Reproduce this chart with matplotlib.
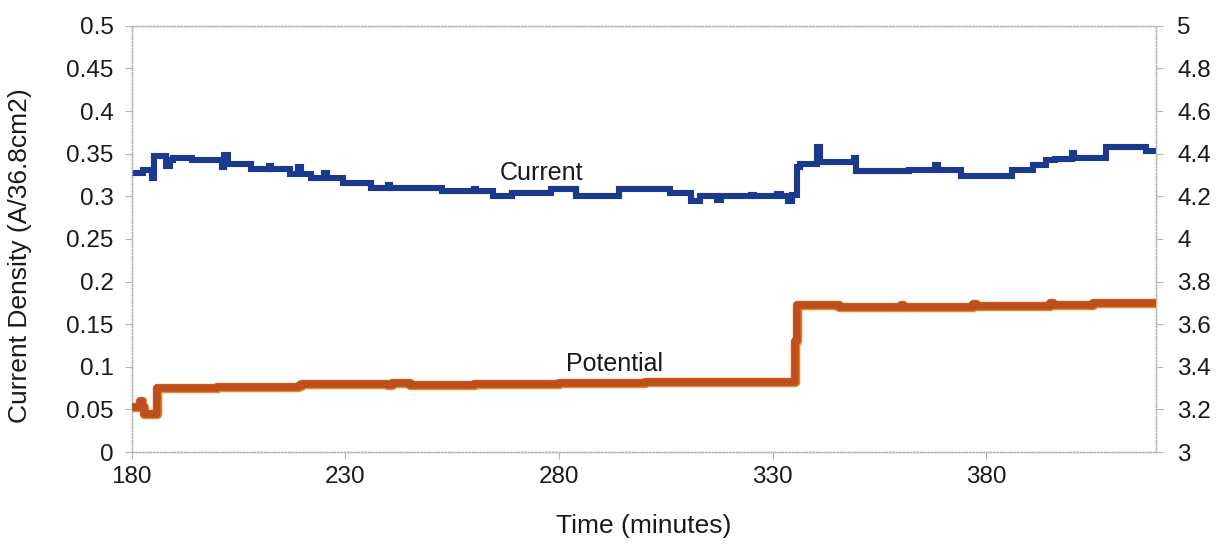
import numpy as np
import matplotlib
matplotlib.use("Agg")
import matplotlib.pyplot as plt
from matplotlib.ticker import FuncFormatter

plt.rcParams['font.family'] = ['Liberation Sans', 'DejaVu Sans']

# current density (A/36.8cm2), step data
cur_t = [180, 182.6, 184.8, 185.2, 188, 189, 189.6, 194, 201, 201.6, 202.4,
         208, 212, 212.5, 217, 219, 219.6, 222, 225, 225.6, 229.5, 236,
         240, 240.5, 252.6, 260, 260.6, 264.5, 269, 278, 284, 294, 306,
         311, 313, 317, 318, 325, 325.7, 331, 332, 333.5, 334.5, 335.8,
         336.5, 340.3, 341, 349, 349.6, 362, 368, 368.6, 374, 386, 391,
         394, 396, 400, 400.6, 401, 408, 417.5, 419.6]
cur_v = [0.327, 0.331, 0.322, 0.347, 0.336, 0.343, 0.345, 0.343, 0.334, 0.349,
         0.338, 0.332, 0.336, 0.332, 0.326, 0.334, 0.326, 0.322, 0.327, 0.322,
         0.316, 0.310, 0.313, 0.310, 0.306, 0.309, 0.306, 0.300, 0.304, 0.308,
         0.300, 0.308, 0.304, 0.294, 0.300, 0.296, 0.300, 0.302, 0.300, 0.303,
         0.300, 0.295, 0.302, 0.334, 0.338, 0.358, 0.340, 0.345, 0.330, 0.331,
         0.337, 0.331, 0.324, 0.331, 0.337, 0.342, 0.344, 0.351, 0.345, 0.345,
         0.358, 0.353, 0.353]

# cell potential (V), right axis
pot_t = [180, 181.8, 182.4, 182.8, 186, 200, 219, 219.5, 240, 241, 245,
         260, 280, 300, 320, 335.3, 335.8, 336.3, 345, 345.6, 360, 360.6,
         377, 377.6, 395, 395.6, 405, 419.6]
pot_v = [3.21, 3.24, 3.21, 3.18, 3.30, 3.305, 3.31, 3.32, 3.315, 3.325, 3.315,
         3.32, 3.325, 3.328, 3.33, 3.52, 3.69, 3.69, 3.69, 3.68, 3.69, 3.68,
         3.695, 3.685, 3.70, 3.69, 3.70, 3.70]

x_ticks = [180, 230, 280, 330, 380]
left_ticks = np.arange(0, 0.501, 0.05)
right_ticks = np.arange(3, 5.001, 0.2)

fig = plt.figure(figsize=(12.21, 5.48), dpi=100)
ax = fig.add_axes([0.108, 0.175, 0.839, 0.778])
ax2 = ax.twinx()

ax.plot(cur_t, cur_v, drawstyle='steps-post', color='#1b3a8e', lw=4.4,
        solid_joinstyle='miter', zorder=3)
ax2.plot(pot_t, pot_v, drawstyle='steps-post', color='#d98a2b', lw=6.8, zorder=2)
ax2.plot(pot_t, pot_v, drawstyle='steps-post', color='#c04d1c', lw=5.4, zorder=3)

ax.set_xlim(180, 419.8)
ax.set_ylim(0, 0.5)
ax2.set_ylim(3, 5)
ax.set_xticks(x_ticks)
ax.set_yticks(left_ticks)
ax2.set_yticks(right_ticks)
ax.yaxis.set_major_formatter(FuncFormatter(lambda v, p: '%g' % round(v, 2)))
ax2.yaxis.set_major_formatter(FuncFormatter(lambda v, p: '%g' % round(v, 1)))

for a in (ax, ax2):
    for s in a.spines.values():
        s.set_color('#b5b5b5')
        s.set_linestyle((0, (1, 1.5)))
        s.set_linewidth(1)
    a.tick_params(colors='#b5b5b5', labelcolor='#1a1a1a', labelsize=17.5,
                  length=5, width=0.8, direction='out')
ax.tick_params(axis='y', pad=8)
ax2.tick_params(axis='y', pad=10)
ax.tick_params(axis='x', pad=5)

ax.set_xlabel('Time (minutes)', fontsize=19, color='#1a1a1a', labelpad=19)
ax.set_ylabel('Current Density (A/36.8cm2)', fontsize=19, color='#1a1a1a')
ax.yaxis.set_label_coords(-0.097, 0.46)

ax.text(276, 0.327, 'Current', fontsize=18, color='#1a1a1a', ha='center',
        va='center')
ax.text(293, 0.1035, 'Potential', fontsize=18, color='#1a1a1a',
        ha='center', va='center')

fig.savefig('out.png', dpi=100)
